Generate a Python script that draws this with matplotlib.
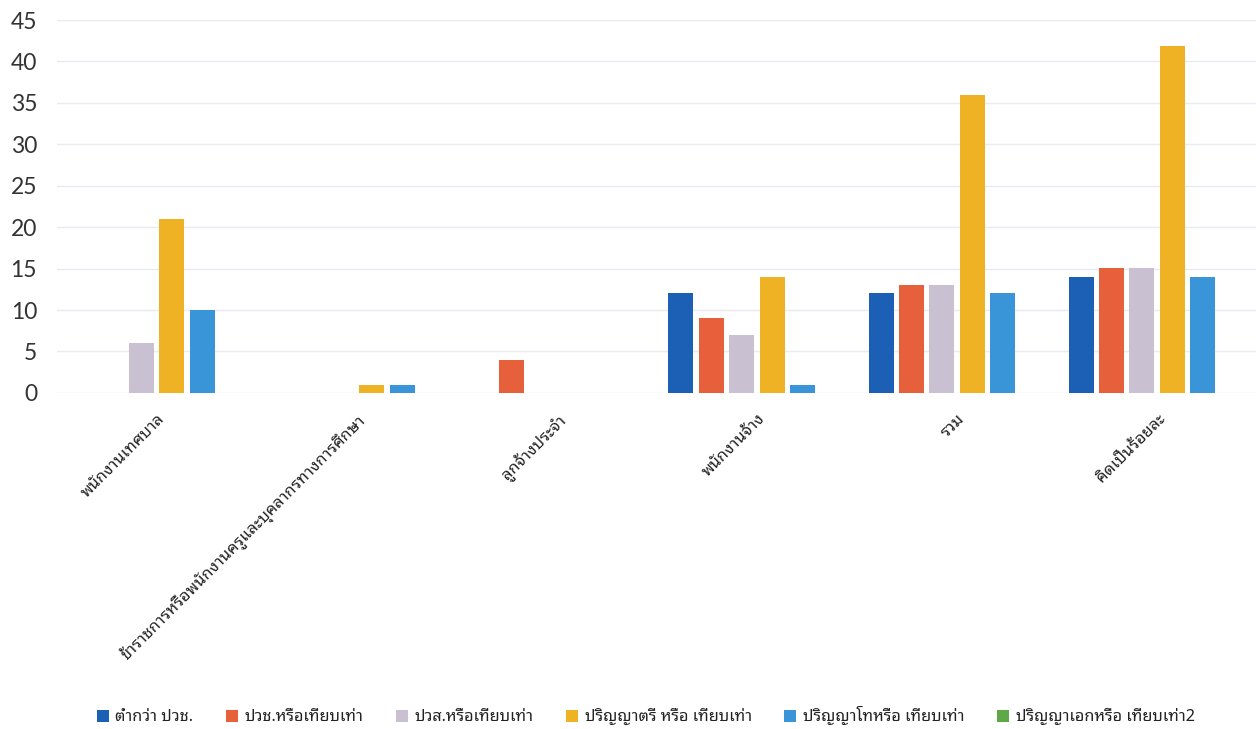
import numpy as np
import matplotlib
matplotlib.use('Agg')
import matplotlib.pyplot as plt

THAI = ['Noto Sans Thai Looped', 'Noto Sans Thai', 'DejaVu Sans']

categories = ['พนักงานเทศบาล',
              'ข้าราชการหรือพนักงานครูและบุคลากรทางการศึกษา',
              'ลูกจ้างประจำ',
              'พนักงานจ้าง',
              'รวม',
              'คิดเป็นร้อยละ']

series_names = ['ต่ำกว่า ปวช.',
                'ปวช.หรือเทียบเท่า',
                'ปวส.หรือเทียบเท่า',
                'ปริญญาตรี หรือ เทียบเท่า',
                'ปริญญาโทหรือ เทียบเท่า',
                'ปริญญาเอกหรือ เทียบเท่า2']

below_pvc = [0, 0, 0, 12, 12, 13.95]
pvc = [0, 0, 4, 9, 13, 15.12]
pvs = [6, 0, 0, 7, 13, 15.12]
bachelor = [21, 1, 0, 14, 36, 41.86]
master = [10, 1, 0, 1, 12, 13.95]
doctor = [0, 0, 0, 0, 0, 0]

colors = ['#1c60b6', '#e6603b', '#c9c0d2', '#efb225', '#3994d8', '#5fa847']

yticks = [0, 5, 10, 15, 20, 25, 30, 35, 40, 45]

fig = plt.figure(figsize=(12.56, 7.29), dpi=100)
ax = fig.add_axes([0.045, 0.461, 0.956, 0.5115])

values = [below_pvc, pvc, pvs, bachelor, master, doctor]
x = np.arange(len(categories))
step = 0.152
width = 0.125
for i, (name, vals) in enumerate(zip(series_names, values)):
    ax.bar(x + (i - 2.5) * step, vals, width, color=colors[i], label=name, linewidth=0)

ax.set_xlim(-0.5, len(categories) - 0.5)
ax.set_ylim(0, 45)
ax.set_yticks(yticks)
ax.set_yticklabels([str(t) for t in yticks], family=['Lato', 'DejaVu Sans'], fontsize=16.5, color='#333333')
ax.set_xticks(x)
ax.set_xticklabels(categories, rotation=45, ha='right', rotation_mode='anchor',
                   family=THAI, fontsize=11.8, color='#222222')
ax.tick_params(axis='y', length=0, pad=14)
ax.tick_params(axis='x', length=0, pad=13)
for s in ax.spines.values():
    s.set_visible(False)
ax.grid(axis='y', color='#eaeaf0', linewidth=1)
ax.set_axisbelow(True)

leg = fig.legend(loc='lower center', bbox_to_anchor=(0.514, -0.015), ncol=6, frameon=False,
                 handlelength=0.75, handleheight=0.75, handletextpad=0.4, columnspacing=2.0,
                 prop={'family': THAI, 'size': 11.7})
for t in leg.get_texts():
    t.set_color('#222222')

fig.savefig('out.png')
